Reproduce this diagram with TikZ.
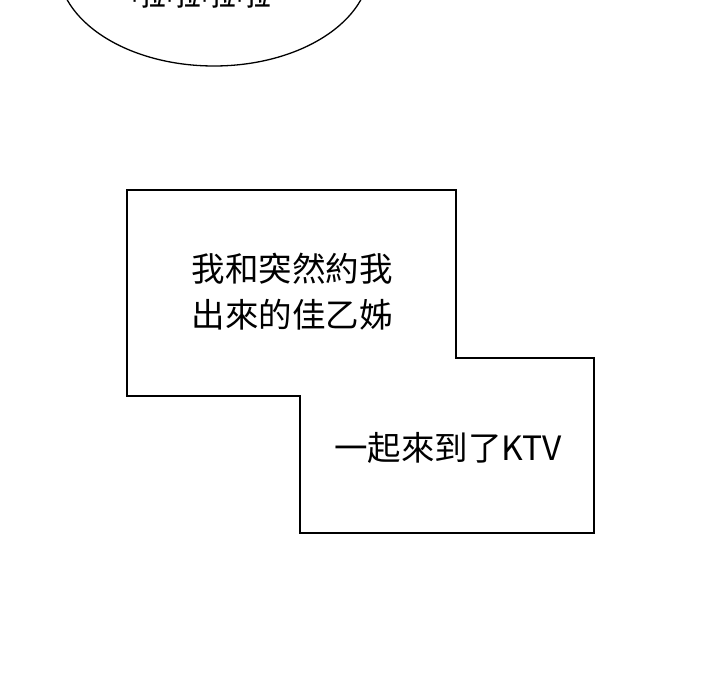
\documentclass[tikz,border=0pt]{standalone}
\usepackage{fontspec}
\newfontfamily\cjk{Noto Sans CJK TC}
\begin{document}
\begin{tikzpicture}[x=1pt,y=-1pt,
  panel/.style={draw=black,line width=1.3pt},
  txt/.style={font=\cjk\fontsize{33.5}{46}\selectfont,inner sep=0pt,align=left}]
\useasboundingbox (0,0) rectangle (720,700);
\clip (0,0) rectangle (720,700);
\fill[white] (0,0) rectangle (720,700);
% speech balloon
\draw[panel] (214,-34) ellipse[x radius=156, y radius=100];
\node[txt,anchor=base,font=\cjk\fontsize{35}{40}\selectfont] (la) at (201,6) {啦啦啦啦};
% caption box
\draw[panel] (127,190) -- (456,190) -- (456,358) -- (594,358) -- (594,533)
  -- (300,533) -- (300,396) -- (127,396) -- cycle;
\node[txt] (t1) at (292,292) {我和突然約我\\出來的佳乙姊};
\node[txt] (t2) at (448,448) {一起來到了KTV};
\end{tikzpicture}
\end{document}
